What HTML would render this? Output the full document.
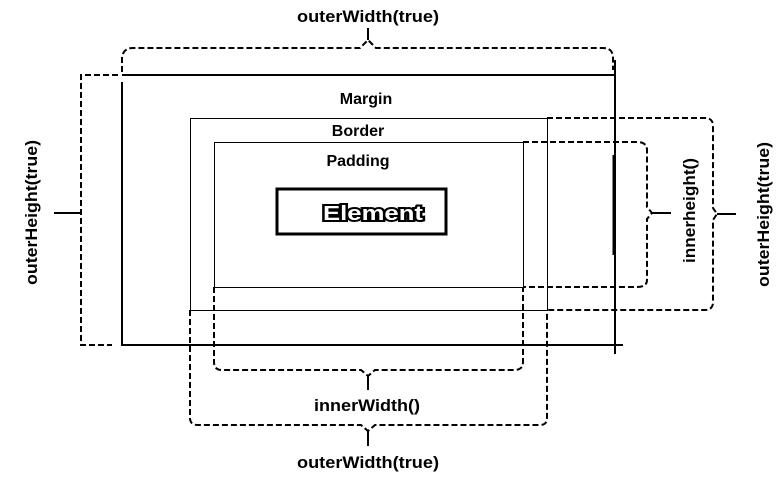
<!DOCTYPE html>
<html><head><meta charset="utf-8"><style>
html,body{margin:0;padding:0;background:#fff;}
svg{display:block;}
text{font-family:"Liberation Sans",sans-serif;font-weight:bold;font-size:16px;fill:#000;}
</style></head><body>
<svg width="778" height="478" viewBox="0 0 778 478" xmlns="http://www.w3.org/2000/svg">
<g fill="none" stroke="#000">
  <line x1="122" y1="75" x2="616" y2="75" stroke-width="2"/>
  <line x1="122" y1="82" x2="122" y2="346" stroke-width="2"/>
  <line x1="615" y1="60" x2="615" y2="354" stroke-width="2"/>
  <line x1="122" y1="345" x2="623" y2="345" stroke-width="2"/>
  <line x1="614" y1="155" x2="614" y2="255" stroke-width="3"/>
  <rect x="190.5" y="118.5" width="357" height="192" stroke-width="1"/>
  <rect x="214.5" y="142.5" width="309" height="145" stroke-width="1"/>
  <rect x="277" y="189" width="169" height="45" stroke-width="3"/>
</g>
<g fill="none" stroke="#000" stroke-width="2" stroke-dasharray="6,3">
  <path d="M122,72 L122,58 Q123,48 133,48 L360,48 L368,40 L376,48 L603,48 Q613,48 613,58 L613,70"/>
  <path d="M118,75 L81,75 L81,345 L112,345"/>
  <path d="M523,142 L637,142 Q647,142 647,150 L647,207 L652,213 L647,219 L647,280 Q647,287 637,287 L523,287"/>
  <path d="M547,118 L705,118 Q713,118 713,126 L713,208 L717,214 L713,220 L713,302 Q713,310 705,310 L547,310"/>
  <path d="M214,287 L214,362 Q214,370 222,370 L361,370 L368,376 L375,370 L514,370 Q523,370 523,362 L523,287"/>
  <path d="M190,310 L190,418 Q190,425 198,425 L361,425 L368,431 L375,425 L540,425 Q547,425 547,418 L547,310"/>
</g>
<g stroke="#000" stroke-width="2">
  <line x1="368" y1="28" x2="368" y2="40"/>
  <line x1="54" y1="213" x2="81" y2="213"/>
  <line x1="651" y1="213" x2="671" y2="213"/>
  <line x1="717" y1="214" x2="736" y2="214"/>
  <line x1="368" y1="376" x2="368" y2="390"/>
  <line x1="368" y1="431" x2="368" y2="446"/>
</g>
<text x="297" y="22" textLength="142" lengthAdjust="spacingAndGlyphs" style="font-size:17px">outerWidth(true)</text>
<text x="366" y="104" text-anchor="middle">Margin</text>
<text x="358" y="136" text-anchor="middle">Border</text>
<text x="358" y="166" text-anchor="middle">Padding</text>
<text x="323" y="220" textLength="100" lengthAdjust="spacingAndGlyphs" style="fill:#fff;stroke:#000;stroke-width:4px;paint-order:stroke;font-size:20px">Element</text>
<text x="314" y="411" textLength="106" lengthAdjust="spacingAndGlyphs" style="font-size:17px">innerWidth()</text>
<text x="297" y="468" textLength="142" lengthAdjust="spacingAndGlyphs" style="font-size:17px">outerWidth(true)</text>
<text transform="translate(37,285) rotate(-90)" textLength="145" lengthAdjust="spacingAndGlyphs" style="font-size:17px">outerHeight(true)</text>
<text transform="translate(695,263) rotate(-90)" textLength="105" lengthAdjust="spacingAndGlyphs" style="font-size:17px">innerheight()</text>
<text transform="translate(769,287) rotate(-90)" textLength="145" lengthAdjust="spacingAndGlyphs" style="font-size:17px">outerHeight(true)</text>
</svg>
</body></html>
